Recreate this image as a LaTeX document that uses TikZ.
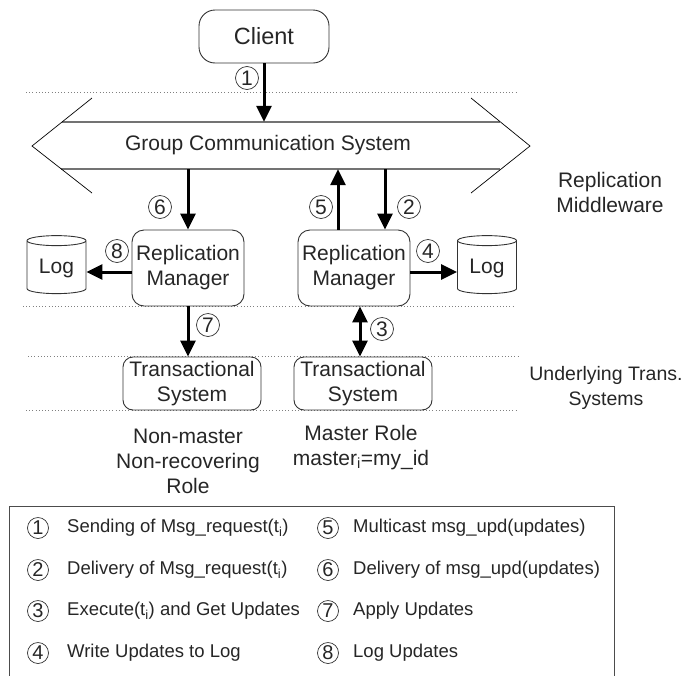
\documentclass[tikz,border=0pt]{standalone}
\usepackage{fontspec}
\setmainfont{Liberation Sans}
\usetikzlibrary{arrows.meta,shapes.geometric}

\tikzset{every node/.style={text=black!85}}
\tikzstyle{box}=[draw=black!80, line width=0.9pt, align=center]
\tikzstyle{client}=[box, rounded corners=16pt, minimum width=130pt, minimum height=53pt, font=\fontsize{23.5}{27}\selectfont]
\tikzstyle{manager}=[box, rounded corners=12pt, minimum width=112pt, minimum height=76pt]
\tikzstyle{transsys}=[box, rounded corners=10pt, minimum width=138pt, minimum height=53pt]
\tikzstyle{logdb}=[draw=black!80, line width=0.9pt, cylinder, shape border rotate=90, aspect=0.24, minimum width=59pt, minimum height=58pt]
\tikzstyle{num}=[draw=black!80, line width=0.7pt, circle, inner sep=0pt, minimum size=23pt, font=\fontsize{21}{21}\selectfont]
\tikzstyle{legnum}=[num, minimum size=21pt, font=\fontsize{20}{20}\selectfont]
\tikzstyle{flow}=[line width=3pt, -{Triangle[width=15pt,length=16pt]}]
\tikzstyle{twoway}=[line width=3pt, {Triangle[width=15pt,length=16pt]}-{Triangle[width=15pt,length=16pt]}]
\tikzstyle{sep}=[black!50, line width=0.8pt, dash pattern=on 0.8pt off 2.4pt]
\tikzstyle{legend}=[anchor=west, inner sep=0pt, font=\fontsize{18.5}{22}\selectfont]

\begin{document}
\begin{tikzpicture}[x=1pt, y=-1pt, font=\fontsize{21}{25}\selectfont]
            \useasboundingbox (0,0) rectangle (688,675);

            \draw[sep] (26,92) -- (517,92);
            \draw[sep] (23,306) -- (513,306);
            \draw[sep] (28,356) -- (519,356);
            \draw[sep] (26,410) -- (517,410);

            \draw[black!55, line width=1.8pt] (62,122) -- (500,122) (61,169) -- (500,169);
            \draw[line width=0.7pt] (92,98) -- (32,146) -- (92,193) (471,98) -- (530,146) -- (471,193);

            \node [client] (client) at (264,36.5) {Client};
            \node [minimum height=47pt] (gcs) at (268,145.5) {Group Communication System};
            \node [manager] (rm1) at (188,268) {Replication\\Manager};
            \node [manager] (rm2) at (354,268) {Replication\\Manager};
            \node [logdb] (log1) at (56.5,268.5) {Log};
            \node [logdb] (log2) at (487,268.5) {Log};
            \node [transsys] (ts1) at (192,383.5) {Transactional\\System};
            \node [transsys] (ts2) at (363,383.5) {Transactional\\System};

            \draw[flow] (client.south) -- (client.south |- gcs.north);
            \draw[flow] (rm1.north |- gcs.south) -- (rm1.north);
            \draw[flow] ([xshift=-16pt]rm2.north) -- ([xshift=-16pt]rm2.north |- gcs.south);
            \draw[flow] ([xshift=31pt]rm2.north |- gcs.south) -- ([xshift=31pt]rm2.north);
            \draw[flow] ([yshift=-4pt]rm1.west) -- ([yshift=-4pt]rm1.west -| log1.east);
            \draw[flow] ([yshift=-4pt]rm2.east) -- ([yshift=-4pt]rm2.east -| log2.west);
            \draw[flow] (rm1.south) -- (rm1.south |- ts1.north);
            \draw[twoway] ([xshift=6pt]rm2.south) -- ([xshift=6pt]rm2.south |- ts2.north);

            \node [num] (n1) at (247,78) {1};
            \node [num] (n2) at (409,207) {2};
            \node [num] (n3) at (382,329) {3};
            \node [num] (n4) at (428,251) {4};
            \node [num] (n5) at (321,207) {5};
            \node [num] (n6) at (160,207) {6};
            \node [num] (n7) at (208,325) {7};
            \node [num] (n8) at (117,251) {8};

            \node [align=center] (midlabel) at (610,192) {Replication\\Middleware};
            \node [align=center, inner sep=1pt, font=\fontsize{19.5}{25}\selectfont] (translabel) at (606,387.5) {Underlying Trans.\\Systems};
            \node [align=center] (slaverole) at (188,461) {Non-master\\Non-recovering\\Role};
            \node [align=center] (masterrole) at (361,447.5) {Master Role\\master\textsubscript{i}=my\_id};

            \draw[black!70, line width=0.9pt] (9,680) |- (614,506) -- (614,680);
            \foreach \n/\ypos/\txt in {1/528/{Sending of Msg\_request(t\textsubscript{i})},
                                       2/570/{Delivery of Msg\_request(t\textsubscript{i})},
                                       3/611/{Execute(t\textsubscript{i}) and Get Updates},
                                       4/653/{Write Updates to Log}} {
                \node [legnum] (k\n) at (38,\ypos) {\n};
                \node [legend] (e\n) at (67,\ypos) {\txt};
            }
            \foreach \n/\ypos/\txt in {5/528/{Multicast msg\_upd(updates)},
                                       6/570/{Delivery of msg\_upd(updates)},
                                       7/611/{Apply Updates},
                                       8/653/{Log Updates}} {
                \node [legnum] (k\n) at (328,\ypos) {\n};
                \node [legend] (e\n) at (353,\ypos) {\txt};
            }
\end{tikzpicture}
\end{document}
